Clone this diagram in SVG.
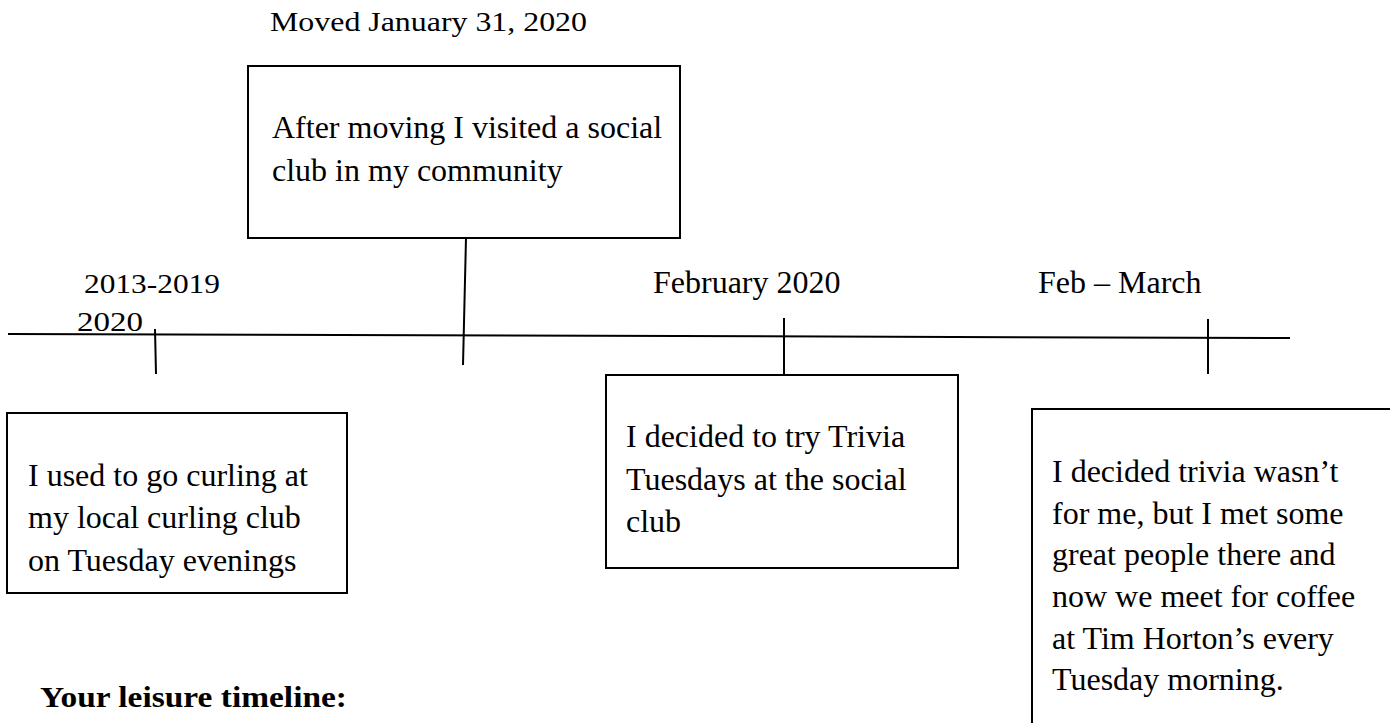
<svg xmlns="http://www.w3.org/2000/svg" width="1390" height="723" viewBox="0 0 1390 723">
<style>
.box{fill:#fff;stroke:#000;stroke-width:2}
.ln{stroke:#000;stroke-width:2;fill:none}
.t{font-family:"Liberation Serif","Times New Roman",serif;font-size:32px;fill:#000}
.g{font-family:"Liberation Serif","Times New Roman",serif;font-size:28px;fill:#000}
.h{font-family:"Liberation Serif","Times New Roman",serif;font-size:29px;font-weight:bold;fill:#000}
</style>
<rect width="1390" height="723" fill="#fff"/>
<g id="connectors">
<line class="ln" x1="8" y1="334" x2="1290" y2="338"/>
<line class="ln" x1="155" y1="329" x2="156" y2="374"/>
<line class="ln" x1="466" y1="238" x2="463" y2="365"/>
<line class="ln" x1="784" y1="318" x2="784" y2="375"/>
<line class="ln" x1="1208" y1="319" x2="1208" y2="374"/>
</g>
<g id="label-moved">
<text class="g" x="270" y="31" textLength="317" lengthAdjust="spacingAndGlyphs">Moved January 31, 2020</text>
</g>
<g id="label-2013">
<text class="g" x="84" y="293" textLength="136" lengthAdjust="spacingAndGlyphs">2013-2019</text>
<text class="g" x="77" y="331" textLength="66" lengthAdjust="spacingAndGlyphs">2020</text>
</g>
<g id="label-feb">
<text class="t" x="653" y="293">February 2020</text>
</g>
<g id="label-febmarch">
<text class="t" x="1038" y="293">Feb – March</text>
</g>
<g id="node-social">
<rect class="box" x="248" y="66" width="432" height="172"/>
<text class="t" x="272" y="138">After moving I visited a social</text>
<text class="t" x="272" y="181">club in my community</text>
</g>
<g id="node-curling">
<rect class="box" x="7" y="413" width="340" height="180"/>
<text class="t" x="28" y="486">I used to go curling at</text>
<text class="t" x="28" y="528">my local curling club</text>
<text class="t" x="28" y="571">on Tuesday evenings</text>
</g>
<g id="node-trivia">
<rect class="box" x="606" y="375" width="352" height="193"/>
<text class="t" x="626" y="447">I decided to try Trivia</text>
<text class="t" x="626" y="490">Tuesdays at the social</text>
<text class="t" x="626" y="532">club</text>
</g>
<g id="node-coffee">
<rect class="box" x="1032" y="409" width="380" height="340"/>
<text class="t" x="1052" y="482">I decided trivia wasn’t</text>
<text class="t" x="1052" y="524">for me, but I met some</text>
<text class="t" x="1052" y="565">great people there and</text>
<text class="t" x="1052" y="607">now we meet for coffee</text>
<text class="t" x="1052" y="649">at Tim Horton’s every</text>
<text class="t" x="1052" y="690">Tuesday morning.</text>
</g>
<g id="title">
<text class="h" x="40" y="707" textLength="307" lengthAdjust="spacingAndGlyphs">Your leisure timeline:</text>
</g>
</svg>
